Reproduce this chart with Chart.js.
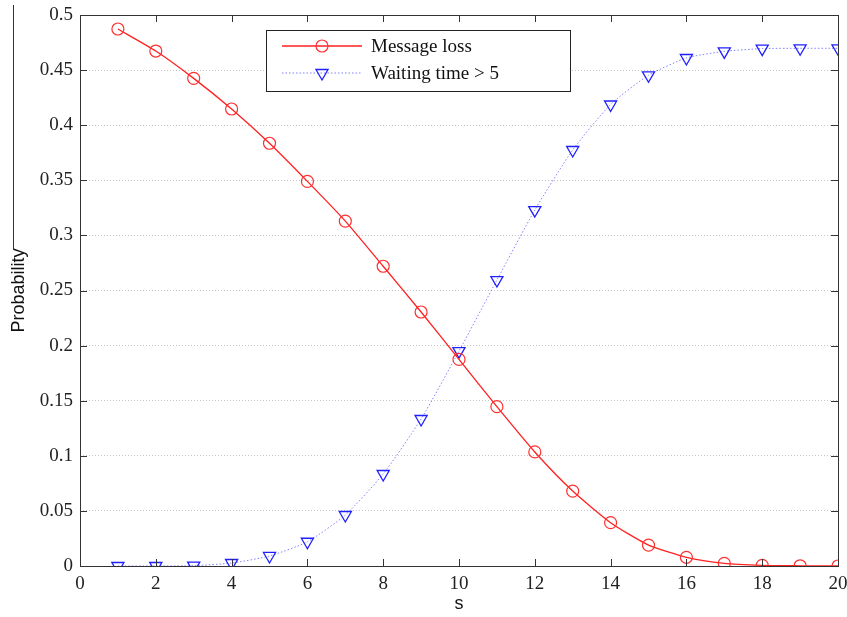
<!DOCTYPE html>
<html lang="en">
<head>
  <meta charset="UTF-8">
  <title>Message loss vs waiting time</title>
  <script src="https://cdn.jsdelivr.net/npm/chart.js"></script>
  <style>
    body { margin: 0; background: #fff; }
    #wrap { width: 847px; height: 617px; }
  </style>
</head>
<body>
  <div id="wrap"><canvas id="chart" width="847" height="617"></canvas></div>

  <script>
    // data
    const sValues = [1, 2, 3, 4, 5, 6, 7, 8, 9, 10, 11, 12, 13, 14, 15, 16, 17, 18, 19, 20];
    const messageLoss = [0.4873, 0.4673, 0.4425, 0.4147, 0.3836, 0.349, 0.313, 0.272, 0.2305, 0.1875,
                         0.1446, 0.1035, 0.068, 0.0393, 0.019, 0.0079, 0.0024, 0.0006, 0.0002, 0];
    const waitingTime = [0, 0, 0.0003, 0.0027, 0.0091, 0.022, 0.0463, 0.0835, 0.1334, 0.195,
                         0.2595, 0.323, 0.3775, 0.4188, 0.4453, 0.461, 0.467, 0.4695, 0.4698, 0.4698];
    const seriesNames = ["Message loss", "Waiting time > 5"];
    const xTickLabels = ["0", "2", "4", "6", "8", "10", "12", "14", "16", "18", "20"];
    const yTickLabels = ["0", "0.05", "0.1", "0.15", "0.2", "0.25", "0.3", "0.35", "0.4", "0.45", "0.5"];

    const serif = "'Liberation Serif', 'Times New Roman', serif";
    const sans = "'Liberation Sans', Arial, sans-serif";

    function toPoints(ys) {
      return sValues.map((s, i) => ({ x: s, y: ys[i] }));
    }

    // box, inward ticks, legend and the stray line on the left
    const decorations = {
      id: "decorations",
      afterDraw(chart) {
        const ctx = chart.ctx;
        const a = chart.chartArea;
        const xs = chart.scales.x, ys = chart.scales.y;
        ctx.save();

        ctx.strokeStyle = "#333";
        ctx.lineWidth = 1;
        ctx.strokeRect(Math.round(a.left) + 0.5, Math.round(a.top) + 0.5,
                       Math.round(a.right - a.left), Math.round(a.bottom - a.top));

        const tl = 7;
        ctx.beginPath();
        xs.ticks.forEach(t => {
          const px = Math.round(xs.getPixelForValue(t.value)) + 0.5;
          ctx.moveTo(px, a.bottom); ctx.lineTo(px, a.bottom - tl);
          ctx.moveTo(px, a.top); ctx.lineTo(px, a.top + tl);
        });
        ys.ticks.forEach(t => {
          const py = Math.round(ys.getPixelForValue(t.value)) + 0.5;
          ctx.moveTo(a.left, py); ctx.lineTo(a.left + tl, py);
          ctx.moveTo(a.right, py); ctx.lineTo(a.right - tl, py);
        });
        ctx.stroke();

        // stray vertical line left of the y label
        ctx.beginPath();
        ctx.moveTo(13.5, 5);
        ctx.lineTo(13.5, 250);
        ctx.stroke();

        // legend box
        const lx = a.left + 186, ly = a.top + 15, lw = 304, lh = 61;
        ctx.fillStyle = "#fff";
        ctx.fillRect(lx, ly, lw, lh);
        ctx.strokeStyle = "#222";
        ctx.strokeRect(lx + 0.5, ly + 0.5, lw, lh);

        ctx.font = "19px " + serif;
        ctx.textBaseline = "middle";
        chart.data.datasets.forEach((ds, i) => {
          const rowY = ly + 16 + i * 27;
          ctx.save();
          ctx.strokeStyle = ds.borderColor;
          ctx.lineWidth = ds.borderWidth;
          ctx.setLineDash(ds.borderDash || []);
          ctx.beginPath();
          ctx.moveTo(lx + 16, rowY);
          ctx.lineTo(lx + 96, rowY);
          ctx.stroke();
          ctx.restore();

          ctx.save();
          ctx.strokeStyle = ds.pointBorderColor;
          ctx.fillStyle = "rgba(0,0,0,0)";
          ctx.lineWidth = ds.pointBorderWidth;
          Chart.helpers.drawPoint(ctx, {
            pointStyle: ds.pointStyle, radius: ds.pointRadius,
            rotation: ds.pointRotation || 0, borderWidth: ds.pointBorderWidth
          }, lx + 56, rowY);
          ctx.restore();

          ctx.fillStyle = "#111";
          ctx.fillText(ds.label, lx + 105, rowY + 1);
        });

        ctx.restore();
      }
    };

    new Chart(document.getElementById("chart"), {
      type: "line",
      data: {
        datasets: [
          {
            label: seriesNames[0],
            data: toPoints(messageLoss),
            borderColor: "#ff2020",
            borderWidth: 1.3,
            pointStyle: "circle",
            pointRadius: 6,
            pointBorderColor: "#ff3030",
            pointBorderWidth: 1.2,
            pointBackgroundColor: "rgba(0,0,0,0)",
            tension: 0.2
          },
          {
            label: seriesNames[1],
            data: toPoints(waitingTime),
            borderColor: "#8080ff",
            borderWidth: 1,
            borderDash: [1.5, 2],
            pointStyle: "triangle",
            pointRotation: 180,
            pointRadius: 7,
            pointBorderColor: "#2020ff",
            pointBorderWidth: 1.3,
            pointBackgroundColor: "rgba(0,0,0,0)",
            tension: 0.2
          }
        ]
      },
      options: {
        responsive: false,
        animation: false,
        layout: { padding: { top: 15, right: 9, left: 0, bottom: 0 } },
        plugins: { legend: { display: false }, tooltip: { enabled: false } },
        scales: {
          x: {
            type: "linear",
            min: 0, max: 20,
            afterFit(scale) {
              scale.height = 51;
              scale.paddingLeft = 0;
              scale.paddingRight = 0;
            },
            ticks: {
              stepSize: 2,
              padding: 7,
              maxRotation: 0,
              font: { family: serif, size: 19 },
              color: "#222",
              callback: (v, i) => xTickLabels[i]
            },
            grid: { display: false, drawTicks: false },
            border: { display: false },
            title: {
              display: true, text: "s",
              font: { family: sans, size: 18 }, color: "#111",
              padding: { top: 0, bottom: 2 }
            }
          },
          y: {
            min: 0, max: 0.5,
            afterFit(scale) {
              scale.width = 80;
              scale.paddingTop = 0;
              scale.paddingBottom = 0;
            },
            ticks: {
              stepSize: 0.05,
              padding: 7,
              font: { family: serif, size: 19 },
              color: "#222",
              callback: (v, i) => yTickLabels[i]
            },
            grid: { color: "#c4c4c4", lineWidth: 1, drawTicks: false },
            border: { display: false, dash: [1, 2] },
            title: {
              display: true, text: "Probability",
              font: { family: sans, size: 18 }, color: "#111",
              padding: { top: 8, bottom: 0 }
            }
          }
        }
      },
      plugins: [decorations]
    });
  </script>
</body>
</html>
